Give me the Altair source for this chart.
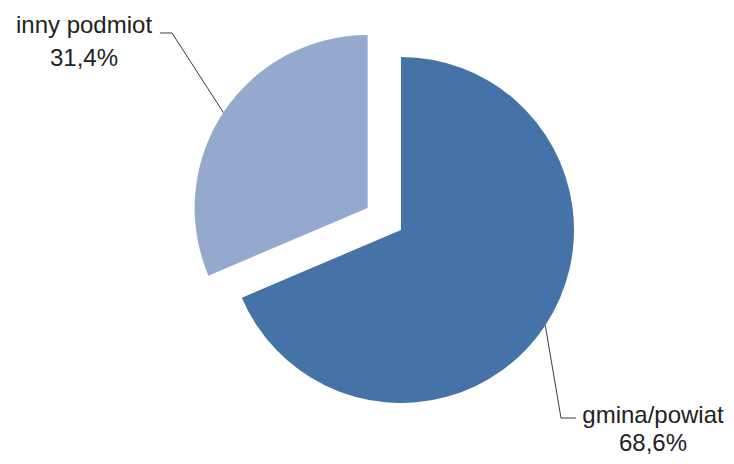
import math
import altair as alt
import pandas as pd

# ---- data ----
categories = ["gmina/powiat", "inny podmiot"]
shares = [68.6, 31.4]
colors = ["#4673A7", "#95A9CF"]

# ---- layout (pixels in chart coordinates) ----
W, H = 718, 448
center_x, center_y = 393, 222
radius = 173
explode = [0, 40]
leader_elbow = [(553, 410), (164, 25)]
leader_end = [(568, 410), (152, 25)]
label_anchor = [(645, 415), (76, 25)]
line_gap = [28, 33]
font = "Liberation Sans"
font_size = 24

# ---- derived geometry ----
total = sum(shares)
arc_rows, line_rows, text_rows = [], [], []
acc = 0.0
for i, (cat, v) in enumerate(zip(categories, shares)):
    t0 = acc / total * 2 * math.pi
    acc += v
    t1 = acc / total * 2 * math.pi
    mid = (t0 + t1) / 2
    cx = center_x + explode[i] * math.sin(mid)
    cy = center_y - explode[i] * math.cos(mid)
    arc_rows.append(dict(cat=cat, t0=t0, t1=t1, cx=cx, cy=cy))
    sx = cx + radius * math.sin(mid)
    sy = cy - radius * math.cos(mid)
    pts = [(sx, sy), leader_elbow[i], leader_end[i]]
    for k, (px, py) in enumerate(pts):
        line_rows.append(dict(cat=cat, k=k, x=px, y=py))
    pct = f"{v:.1f}".replace(".", ",") + "%"
    ax, ay = label_anchor[i]
    text_rows.append(dict(cat=cat, x=ax, y=ay, t=cat))
    text_rows.append(dict(cat=cat, x=ax, y=ay + line_gap[i], t=pct))

arcs = alt.Chart(pd.DataFrame(arc_rows)).mark_arc(outerRadius=radius).encode(
    x=alt.X("cx:Q", scale=None),
    y=alt.Y("cy:Q", scale=None),
    theta=alt.Theta("t0:Q", scale=None),
    theta2="t1:Q",
    color=alt.Color("cat:N", scale=alt.Scale(domain=categories, range=colors), legend=None),
)

leaders = alt.Chart(pd.DataFrame(line_rows)).mark_line(color="#3a3a3a", strokeWidth=1).encode(
    x=alt.X("x:Q", scale=None),
    y=alt.Y("y:Q", scale=None),
    detail="cat:N",
    order="k:Q",
)

labels = alt.Chart(pd.DataFrame(text_rows)).mark_text(
    font=font, fontSize=font_size, color="#222222", align="center", baseline="alphabetic"
).encode(
    x=alt.X("x:Q", scale=None),
    y=alt.Y("y:Q", scale=None),
    text="t:N",
)

chart = (
    alt.layer(arcs, leaders, labels)
    .properties(width=W, height=H, padding=0, background="white",
                autosize=alt.AutoSizeParams(type="none"))
    .configure_view(strokeWidth=0, stroke="transparent")
)

chart.save("out.html", embed_options={"renderer": "svg", "actions": False})
